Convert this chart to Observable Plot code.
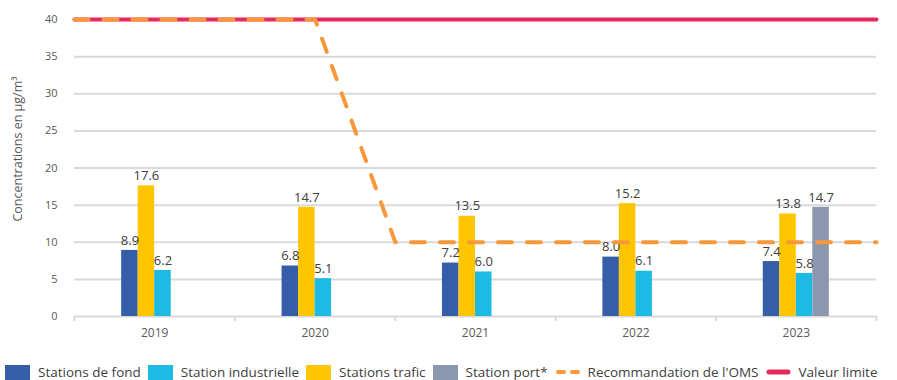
<!DOCTYPE html>
<html>
<head>
<meta charset="utf-8">
<script src="https://cdn.jsdelivr.net/npm/d3@7"></script>
<script src="https://cdn.jsdelivr.net/npm/@observablehq/plot@0.6"></script>
<style>
  html, body { margin: 0; padding: 0; background: #fff; }
  body { width: 897px; height: 380px; overflow: hidden; font-family: "Open Sans", sans-serif; }
  #legend { display: flex; align-items: center; margin-left: 5px; margin-top: 2px; font-size: 13.5px; line-height: 16px; color: #404040; white-space: nowrap; }
  .item { display: flex; align-items: center; margin-right: 7px; }
  .sw { width: 25px; height: 15px; margin-right: 8px; flex: none; }
</style>
</head>
<body>
<div id="chart"></div>
<div id="legend"></div>
<script>
// ---- data ----
const years = ["2019", "2020", "2021", "2022", "2023"];
const seriesNames = ["Stations de fond", "Stations trafic", "Station industrielle", "Station port*"];
const stationsDeFond = [8.9, 6.8, 7.2, 8.0, 7.4];
const stationsTrafic = [17.6, 14.7, 13.5, 15.2, 13.8];
const stationIndustrielle = [6.2, 5.1, 6.0, 6.1, 5.8];
const stationPort = [null, null, null, null, 14.7];
// values at half-year steps from the left edge of 2019 to the right edge of 2023
const recommandationOMS = [40, 40, 40, 40, 10, 10, 10, 10, 10, 10, 10];
const valeurLimite = [40, 40, 40, 40, 40, 40, 40, 40, 40, 40, 40];
const yTicks = [0, 5, 10, 15, 20, 25, 30, 35, 40];
const yLabel = "Concentrations en µg/m³";

const colors = {
  "Stations de fond": "#365ea8",
  "Station industrielle": "#1dbbe3",
  "Stations trafic": "#ffc600",
  "Station port*": "#8b97ae"
};
const omsColor = "#f7983a";
const limColor = "#e8295b";

// ---- build table ----
const seriesValues = [stationsDeFond, stationsTrafic, stationIndustrielle, stationPort];
const barW = 0.103; // fraction of a year band per bar
const bars = [];
years.forEach((yr, i) => {
  seriesNames.forEach((s, j) => {
    const v = seriesValues[j][i];
    if (v == null) return;
    const c = i + 0.5 + (j - 2) * barW;
    bars.push({year: yr, series: s, value: v, x1: c, x2: c + barW, xc: c + barW / 2});
  });
});
const oms = recommandationOMS.map((v, k) => ({x: k / 2, y: v}));
const lim = valeurLimite.map((v, k) => ({x: k / 2, y: v}));
const yearPos = years.map((y, i) => i + 0.5);
const bounds = d3.range(years.length + 1);

const chart = Plot.plot({
  width: 897,
  height: 362,
  marginLeft: 74,
  marginRight: 21,
  marginTop: 19,
  marginBottom: 46,
  style: {fontFamily: "Open Sans, sans-serif", color: "#595959", background: "#fff"},
  x: {type: "linear", domain: [0, years.length]},
  y: {domain: [0, 40]},
  color: {domain: seriesNames, range: seriesNames.map(s => colors[s])},
  marks: [
    Plot.gridY(yTicks.filter(t => t > 0), {stroke: "#d9d9d9", strokeOpacity: 1, strokeWidth: 2}),
    Plot.axisY(yTicks, {tickSize: 0, tickPadding: 17, fontSize: 11, fill: "#595959", label: null}),
    Plot.text([yLabel], {frameAnchor: "left", textAnchor: "middle", rotate: -90, dx: -57, dy: -19, fontSize: 12.5, fill: "#595959"}),
    Plot.axisX(yearPos, {tickSize: 0, tickPadding: 12, fontSize: 12, fill: "#595959",
      tickFormat: (d, i) => years[i], label: null}),
    Plot.axisX(bounds, {tickSize: 5, tickFormat: () => "", stroke: "#d9d9d9", strokeWidth: 2, label: null}),
    Plot.ruleY([0], {stroke: "#d9d9d9", strokeWidth: 2}),
    Plot.rectY(bars, {x1: "x1", x2: "x2", y: "value", fill: "series"}),
    Plot.text(bars, {x: "xc", y: "value", text: d => d.value.toFixed(1), dy: -10, fontSize: 13, fill: "#404040"}),
    Plot.line(lim, {x: "x", y: "y", stroke: limColor, strokeWidth: 4, strokeLinecap: "round"}),
    Plot.line(oms, {x: "x", y: "y", stroke: omsColor, strokeWidth: 4, strokeDasharray: "14,15", strokeLinecap: "round"})
  ]
});
document.getElementById("chart").appendChild(chart);

// ---- legend ----
const legend = document.getElementById("legend");
const legendOrder = ["Stations de fond", "Station industrielle", "Stations trafic", "Station port*"];
legendOrder.forEach(s => {
  const it = document.createElement("div");
  it.className = "item";
  it.innerHTML = `<span class="sw" style="background:${colors[s]}"></span><span>${s}</span>`;
  legend.appendChild(it);
});
const omsIt = document.createElement("div");
omsIt.className = "item";
omsIt.innerHTML = `<svg width="25" height="6" style="margin-right:8px;flex:none"><line x1="3" x2="23" y1="3" y2="3" stroke="${omsColor}" stroke-width="4" stroke-linecap="round" stroke-dasharray="6,8"/></svg><span>Recommandation de l'OMS</span>`;
legend.appendChild(omsIt);
const limIt = document.createElement("div");
limIt.className = "item";
limIt.innerHTML = `<svg width="25" height="6" style="margin-right:8px;flex:none"><line x1="3" x2="22" y1="3" y2="3" stroke="${limColor}" stroke-width="5" stroke-linecap="round"/></svg><span>Valeur limite</span>`;
legend.appendChild(limIt);
</script>
</body>
</html>
